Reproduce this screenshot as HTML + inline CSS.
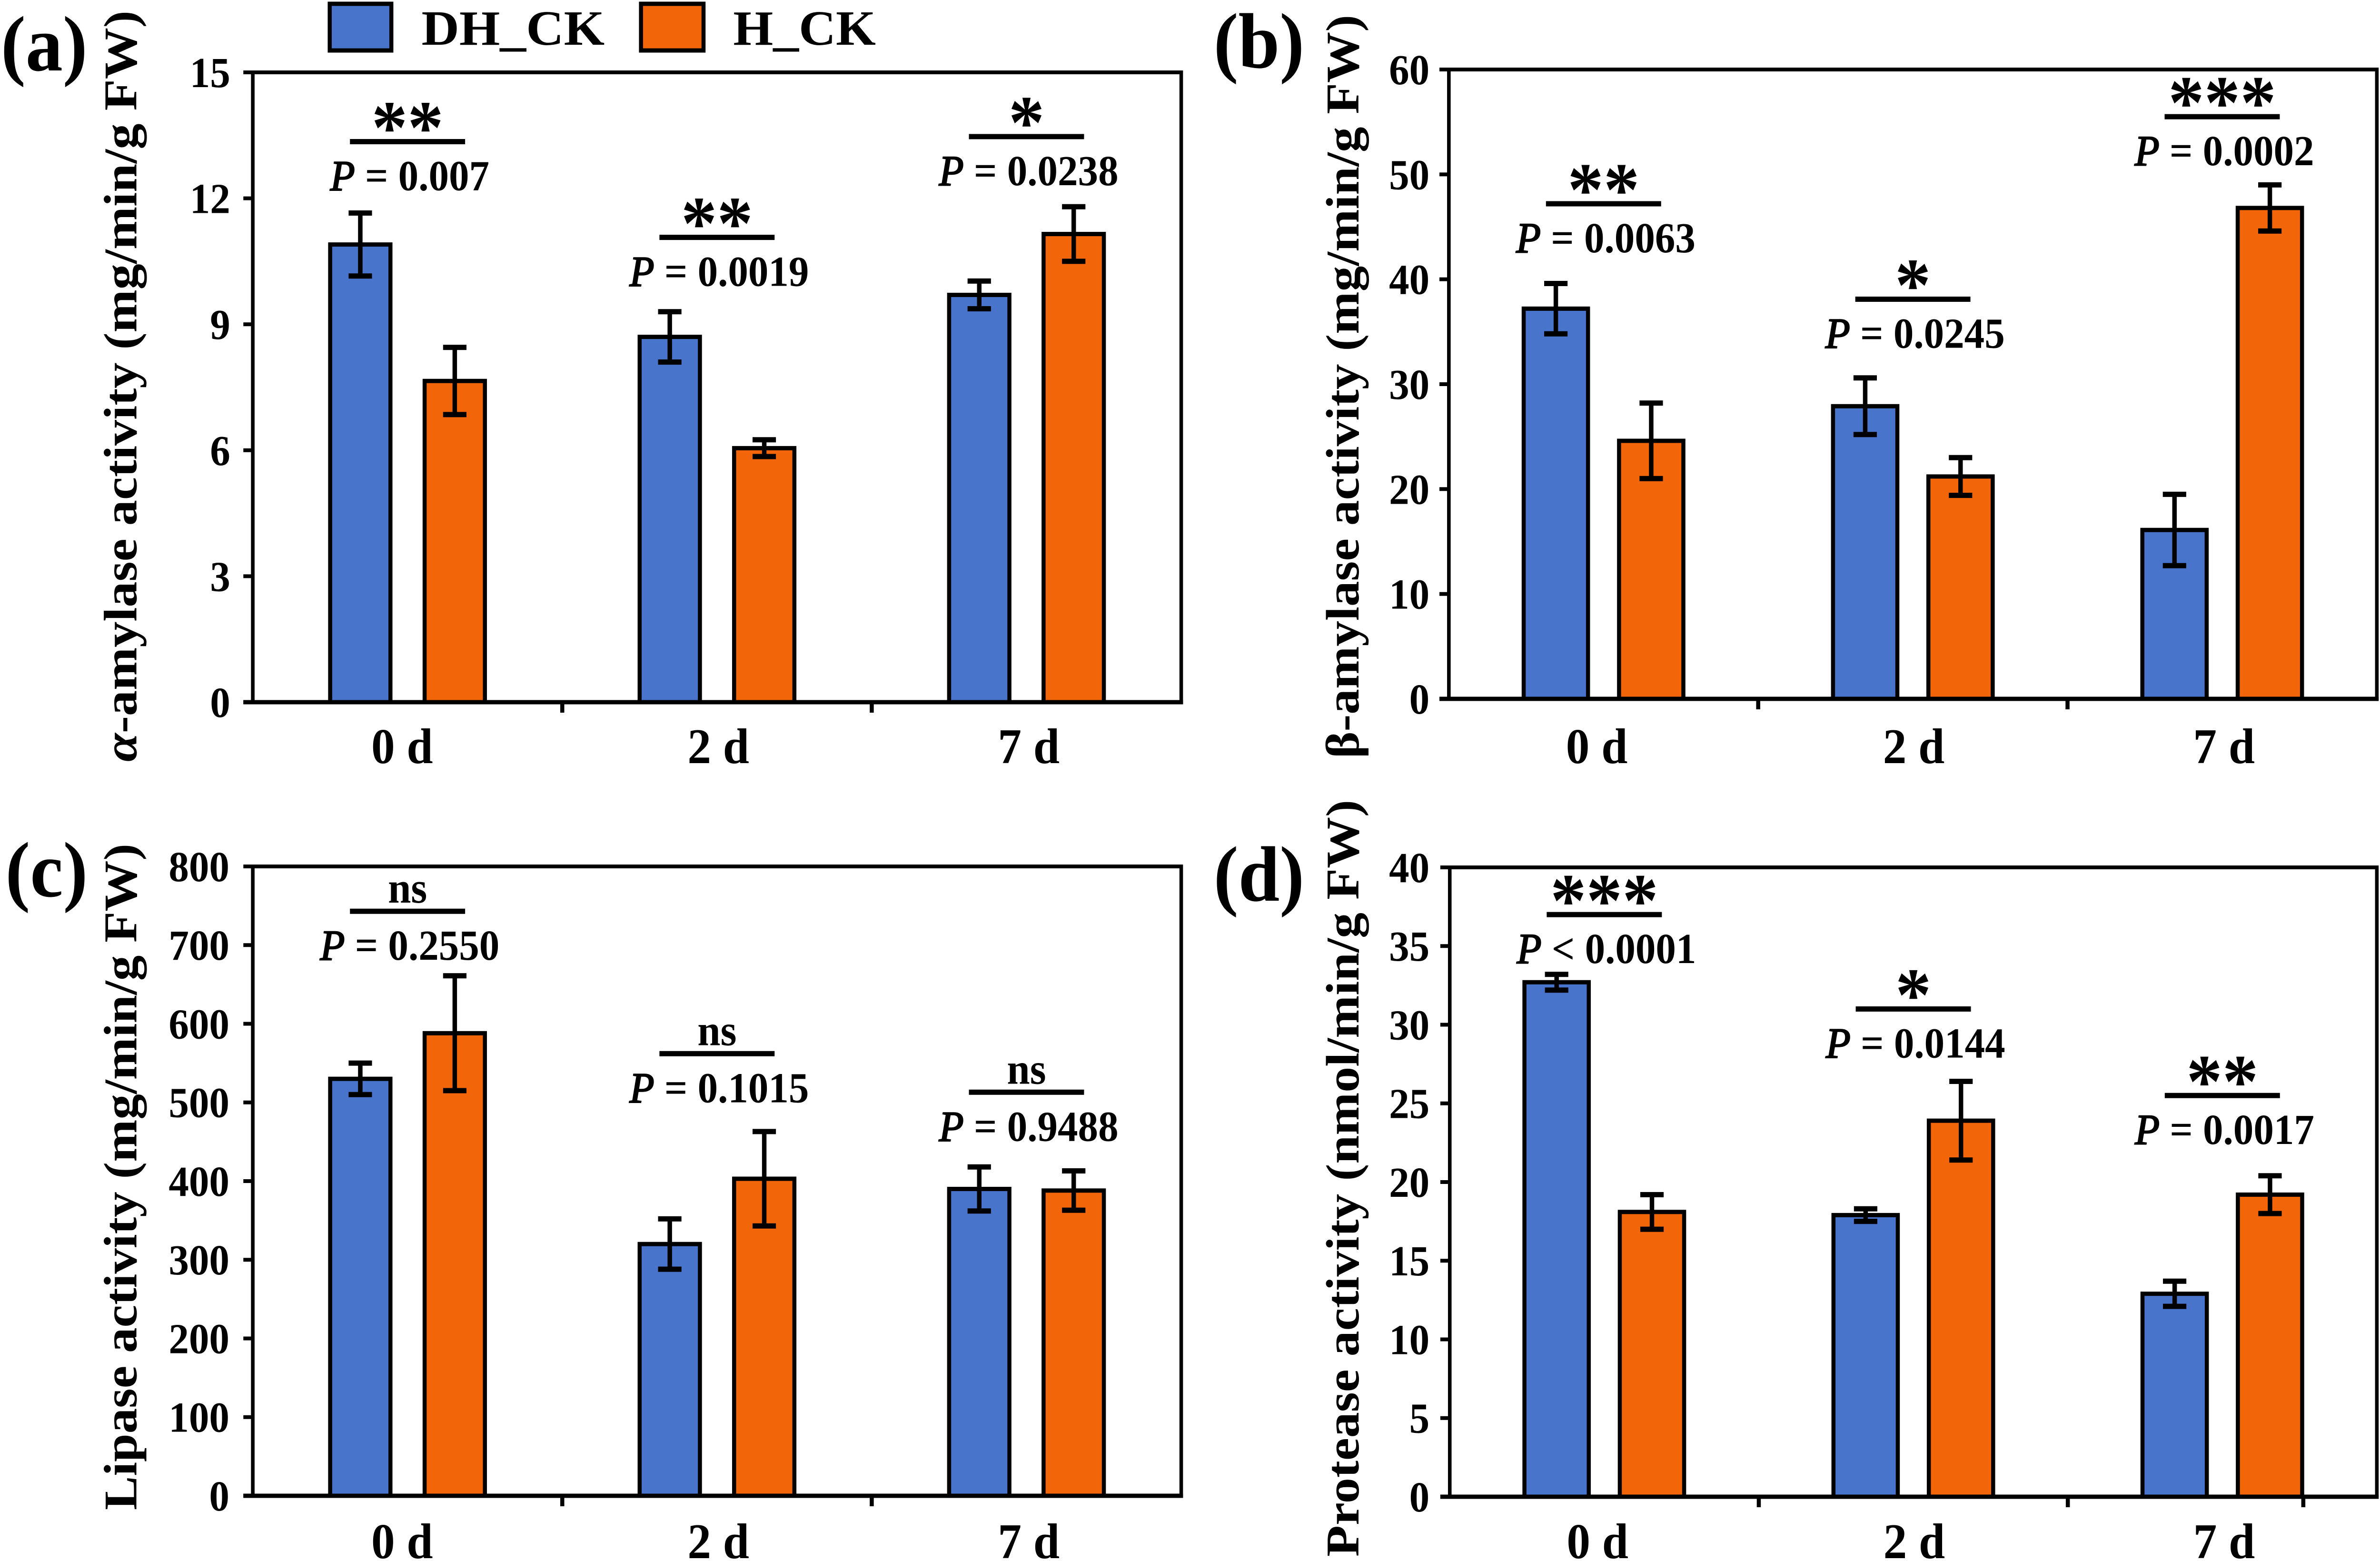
<!DOCTYPE html>
<html lang="en">
<head>
<meta charset="utf-8">
<title>Enzyme activity bar charts</title>
<style>
html,body{margin:0;padding:0;background:#fff;width:100%;height:100%;overflow:hidden;}
svg{display:block;width:100vw;height:100vh;}
text{font-family:"Liberation Serif","DejaVu Serif",serif;fill:#000;}
.tick{font-size:90px;font-weight:bold;}
.cat{font-size:105px;font-weight:bold;}
.pval{font-size:90px;font-weight:bold;}
.pval-p{font-weight:normal;font-style:italic;stroke:#000;stroke-width:2.5px;}
.star{font-size:160px;font-weight:bold;}
.ns{font-size:92px;font-weight:bold;}
.ytitle{font-size:104px;font-weight:bold;}
.panel-label{font-size:165px;font-weight:bold;}
.legend-text{font-size:104px;font-weight:bold;}
</style>
</head>
<body>
<svg id="figure" xmlns="http://www.w3.org/2000/svg" viewBox="0 0 5291 3279" preserveAspectRatio="none">
  <rect x="0" y="0" width="5291" height="3279" fill="#fff"/>

  <g>
    <rect x="733" y="8" width="137" height="98" fill="#4874CB" stroke="#000" stroke-width="9"/>
    <text class="legend-text" x="937" y="94" textLength="407" lengthAdjust="spacingAndGlyphs">DH_CK</text>
    <rect x="1425" y="8" width="139" height="98" fill="#F26609" stroke="#000" stroke-width="9"/>
    <text class="legend-text" x="1630" y="94" textLength="317" lengthAdjust="spacingAndGlyphs">H_CK</text>
  </g>

  <text class="panel-label" x="2" y="148">(a)</text>
  <text class="panel-label" x="2698" y="142">(b)</text>
  <text class="panel-label" x="12" y="1883">(c)</text>
  <text class="panel-label" x="2698" y="1892">(d)</text>

  <text class="ytitle" transform="translate(303,1600) rotate(-90)" textLength="1578" lengthAdjust="spacingAndGlyphs"><tspan font-style="italic">α</tspan>-amylase activity (mg/min/g FW)</text>
  <text class="ytitle" transform="translate(3020,1593) rotate(-90)" textLength="1562" lengthAdjust="spacingAndGlyphs">β-amylase activity (mg/min/g FW)</text>
  <text class="ytitle" transform="translate(303,3172) rotate(-90)" textLength="1400" lengthAdjust="spacingAndGlyphs">Lipase activity (mg/min/g FW)</text>
  <text class="ytitle" transform="translate(3020,3270) rotate(-90)" textLength="1590" lengthAdjust="spacingAndGlyphs">Protease activity (nmol/min/g FW)</text>

  <rect x="5116" y="3144" width="9" height="22" fill="#000"/>
</svg>
<script>
const categories = ['0 d', '2 d', '7 d'];

const aTicks = [0, 3, 6, 9, 12, 15];
const aDH = [10.9, 8.7, 9.7];
const aH = [7.65, 6.05, 11.15];
const aDHErr = [0.75, 0.6, 0.33];
const aHErr = [0.8, 0.2, 0.65];
const aStars = ['**', '**', '*'];
const aPLabels = ['= 0.007', '= 0.0019', '= 0.0238'];
const aBracket = [13.35, 11.07, 13.47];

const bTicks = [0, 10, 20, 30, 40, 50, 60];
const bDH = [37.2, 27.9, 16.1];
const bH = [24.6, 21.2, 46.8];
const bDHErr = [2.4, 2.7, 3.4];
const bHErr = [3.6, 1.8, 2.2];
const bStars = ['**', '*', '***'];
const bPLabels = ['= 0.0063', '= 0.0245', '= 0.0002'];
const bBracket = [47.2, 38.1, 55.5];

const cTicks = [0, 100, 200, 300, 400, 500, 600, 700, 800];
const cDH = [530, 320, 390];
const cH = [588, 403, 388];
const cDHErr = [20, 32, 28];
const cHErr = [73, 60, 25];
const cStars = ['ns', 'ns', 'ns'];
const cPLabels = ['= 0.2550', '= 0.1015', '= 0.9488'];
const cBracket = [743, 562, 513];

const dTicks = [0, 5, 10, 15, 20, 25, 30, 35, 40];
const dDH = [32.7, 17.9, 12.9];
const dH = [18.1, 23.9, 19.2];
const dDHErr = [0.5, 0.4, 0.8];
const dHErr = [1.1, 2.5, 1.2];
const dStars = ['***', '*', '**'];
const dPLabels = ['< 0.0001', '= 0.0144', '= 0.0017'];
const dBracket = [37, 31, 25.5];

const NS = 'http://www.w3.org/2000/svg';
const svg = document.getElementById('figure');

function make(parent, tag, attrs, text) {
  const el = document.createElementNS(NS, tag);
  for (const k in attrs) el.setAttribute(k, attrs[k]);
  if (text !== undefined) el.textContent = text;
  parent.appendChild(el);
  return el;
}

function drawPanel(id, layout, ticks, dh, h, dhErr, hErr, stars, pLabels, bracket) {
  const left = layout.left, right = layout.right, top = layout.top, bottom = layout.bottom;
  const yMin = ticks[0], yMax = ticks[ticks.length - 1];
  const yScale = function (v) { return bottom - (v - yMin) / (yMax - yMin) * (bottom - top); };
  const band = (right - left) / categories.length;
  const xScale = function (i) { return left + band * (i + 0.5); };

  const g = make(svg, 'g', {});
  
  

  // bars and error bars
  categories.forEach(function (cat, i) {
    [[dh, dhErr, '#4874CB', -1, 'dh-ck'], [h, hErr, '#F26609', 1, 'h-ck']].forEach(function (s) {
      const cx = xScale(i) + s[3] * layout.barOffset;
      const val = s[0][i], err = s[1][i];
      const bar = make(g, 'rect', {
        x: cx - layout.barWidth / 2, y: yScale(val), width: layout.barWidth,
        height: bottom - yScale(val), fill: s[2], stroke: '#000', 'stroke-width': 9
      });
      
      
      const hi = yScale(val + err), lo = yScale(val - err);
      const stem = make(g, 'rect', { x: cx - 5, y: hi, width: 10, height: lo - hi, fill: '#000' });
      
      
      const capTop = make(g, 'rect', { x: cx - 26, y: hi - 5.5, width: 52, height: 11, fill: '#000' });
      
      
      const capLow = make(g, 'rect', { x: cx - 26, y: lo - 5.5, width: 52, height: 11, fill: '#000' });
      
      
    });

    // significance annotation
    const by = yScale(bracket[i]);
    const cxg = xScale(i);
    const line = make(g, 'rect', { x: cxg - 128, y: by - 5.5, width: 256, height: 11, fill: '#000' });
    
    
    const isNs = stars[i] === 'ns';
    const st = make(g, 'text', {
      class: isNs ? 'ns' : 'star', x: cxg, y: isNs ? by - 18 : by + 24, 'text-anchor': 'middle'
    }, stars[i]);
    
    
    const pt = make(g, 'text', { class: 'pval', x: cxg + 5, y: by + 102, 'text-anchor': 'middle' });
    
    
    make(pt, 'tspan', { class: 'pval-p' }, 'P');
    make(pt, 'tspan', {}, ' ' + pLabels[i]);

    // category label
    const lab = make(g, 'text', {
      class: 'cat', x: cxg + layout.labelNudge[i], y: layout.labelY, 'text-anchor': 'middle'
    }, cat);
    
    
  });

  // axes frame
  const frame = make(g, 'rect', {
    x: left, y: top, width: right - left, height: bottom - top,
    fill: 'none', stroke: '#000', 'stroke-width': 8
  });
  
  
  const base = make(g, 'rect', { x: left - 21, y: bottom - 4.5, width: right - left + 25, height: 9, fill: '#000' });
  
  

  // y ticks
  ticks.forEach(function (t) {
    const y = yScale(t);
    const mark = make(g, 'rect', { x: left - 21, y: y - 4, width: 21, height: 8, fill: '#000' });
    
    
    const label = make(g, 'text', { class: 'tick', x: left - layout.tickGap, y: y + 31, 'text-anchor': 'end' }, String(t));
    
    
  });

  // x separators
  for (let i = 1; i < categories.length; i++) {
    const tk = make(g, 'rect', { x: left + band * i - 4.5, y: bottom, width: 9, height: 22, fill: '#000' });
    
    
  }
}

const layoutA = { left: 562, right: 2626, top: 152, bottom: 1475, barWidth: 134, barOffset: 105, tickGap: 50, labelY: 1603, labelNudge: [-12, 3, 5] };
const layoutB = { left: 3221, right: 5284, top: 146, bottom: 1468, barWidth: 143, barOffset: 106, tickGap: 43, labelY: 1603, labelNudge: [-15, 2, 4] };
const layoutC = { left: 562, right: 2626, top: 1820, bottom: 3142, barWidth: 134, barOffset: 105, tickGap: 52, labelY: 3273, labelNudge: [-12, 3, 5] };
const layoutD = { left: 3223, right: 5284, top: 1822, bottom: 3144, barWidth: 143, barOffset: 106, tickGap: 45, labelY: 3273, labelNudge: [-15, 2, 4] };

drawPanel('a', layoutA, aTicks, aDH, aH, aDHErr, aHErr, aStars, aPLabels, aBracket);
drawPanel('b', layoutB, bTicks, bDH, bH, bDHErr, bHErr, bStars, bPLabels, bBracket);
drawPanel('c', layoutC, cTicks, cDH, cH, cDHErr, cHErr, cStars, cPLabels, cBracket);
drawPanel('d', layoutD, dTicks, dDH, dH, dDHErr, dHErr, dStars, dPLabels, dBracket);
</script>
</body>
</html>
